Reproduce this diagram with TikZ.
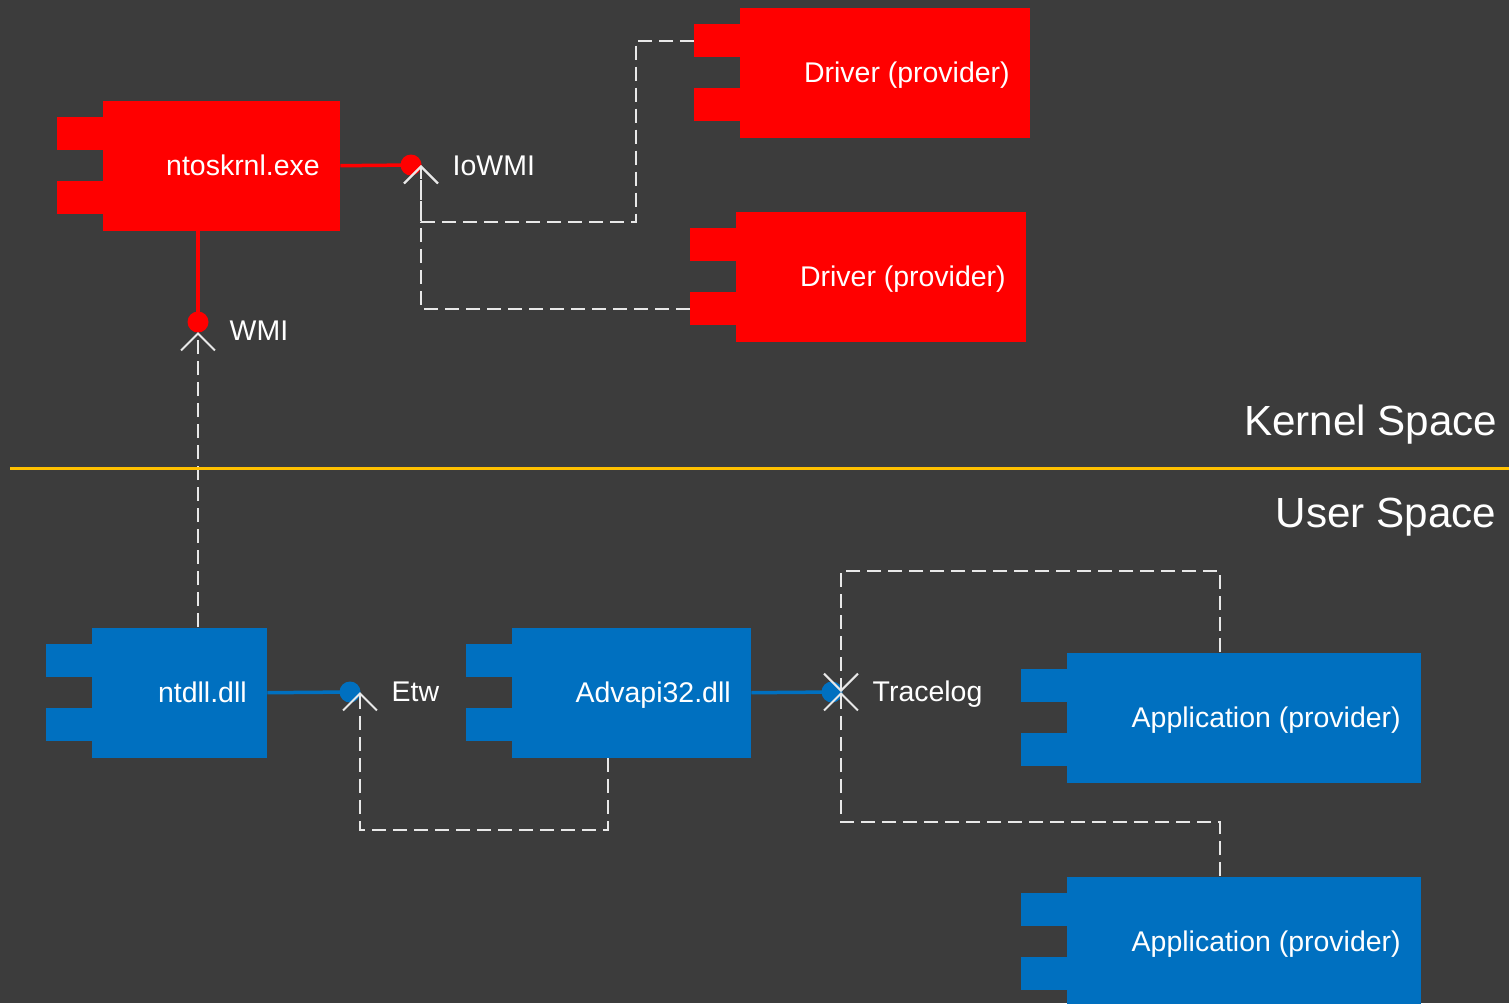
\documentclass[tikz,border=0pt]{standalone}
\usepackage{fontspec}
\setmainfont{Liberation Sans}
\usepackage{tikz}
\usetikzlibrary{arrows.meta}

\definecolor{bgcol}{HTML}{3C3C3C}
\definecolor{kred}{HTML}{FF0000}
\definecolor{ublue}{HTML}{0070C0}
\definecolor{sepcol}{HTML}{FFC000}
\definecolor{linkcol}{HTML}{E8E8E8}

\tikzset{
  compbody/.style={draw=none, minimum height=13mm, inner sep=0pt, anchor=north west},
  complabel/.style={text=white, font=\fontsize{8.1}{10}\selectfont, inner sep=0pt, anchor=base east},
  iflabel/.style={text=white, font=\fontsize{8.1}{10}\selectfont, inner sep=0pt, anchor=base west},
  spacelabel/.style={text=white, font=\fontsize{12}{14}\selectfont, inner sep=0pt, anchor=base east},
  ifdot/.style={circle, inner sep=0pt, minimum size=2.1mm},
  ifline/.style={line width=0.35mm},
  uses/.style={draw=linkcol, line width=0.2mm, dash pattern=on 1.4mm off 0.7mm,
    -{Straight Barb[length=1.7mm, width=3.4mm]}},
}

% component: name, left, top, width, colour, text
\newcommand{\umlcomp}[6]{%
  \node[compbody, fill=#5, minimum width=#4*0.1mm] (#1) at (#2,#3) {};
  \fill[#5] ([shift={(-45,17)}]#1.north west) rectangle ++(47,33);
  \fill[#5] ([shift={(-45,81)}]#1.north west) rectangle ++(47,33);
  \coordinate (#1-tab1) at ([shift={(-45,33.5)}]#1.north west);
  \coordinate (#1-tab2) at ([shift={(-45,97.5)}]#1.north west);
  \node[complabel] (#1-name) at ([shift={(-20,10)}]#1.east) {#6};
}

\begin{document}
\begin{tikzpicture}[x=0.1mm,y=-0.1mm]
  \fill[bgcol] (0,0) rectangle (1509,1003);
  \useasboundingbox (0,0) rectangle (1509,1003);

  % kernel side
  \umlcomp{ntos}{102}{100}{237}{kred}{ntoskrnl.exe}
  \umlcomp{drvA}{739}{7}{290}{kred}{Driver (provider)}
  \umlcomp{drvB}{735}{211}{290}{kred}{Driver (provider)}

  % user side
  \umlcomp{ntdll}{91}{627}{175}{ublue}{ntdll.dll}
  \umlcomp{advapi}{511}{627}{239}{ublue}{Advapi32.dll}
  \umlcomp{appA}{1066}{652}{354}{ublue}{Application (provider)}
  \umlcomp{appB}{1066}{876}{354}{ublue}{Application (provider)}

  % interfaces
  \node[ifdot, fill=kred] (wmi) at (198,322) {};
  \node[ifdot, fill=kred] (iowmi) at (411,165) {};
  \node[ifdot, fill=ublue] (etw) at (350,692) {};
  \node[ifdot, fill=ublue] (trace) at (832,692) {};
  \coordinate (wmiTip) at (198,332);
  \coordinate (iowmiTip) at (421,165);
  \coordinate (etwTip) at (360,692);
  \coordinate (traceTip) at (841,692);

  \node[iflabel] (wmi-name) at (229,340) {WMI};
  \node[iflabel] (iowmi-name) at (452,175) {IoWMI};
  \node[iflabel] (etw-name) at (391,701) {Etw};
  \node[iflabel] (trace-name) at (872,701) {Tracelog};

  \draw[ifline, kred] (wmi |- ntos.south) -- (wmi.center);
  \draw[ifline, kred] (ntos.east) -- (iowmi.center);
  \draw[ifline, ublue] (ntdll.east) -- (etw.center);
  \draw[ifline, ublue] (advapi.east) -- (trace.center);

  % dependencies
  \coordinate (ioJ) at (636,222);
  \coordinate (etwJ) at (608,830);
  \coordinate (trJA) at (1220,571);
  \coordinate (trJB) at (1220,822);

  \draw[uses] (wmiTip |- ntdll.north) -- (wmiTip);
  \draw[uses] (drvA-tab1) -| (ioJ) -| (iowmiTip);
  \draw[uses] (drvB-tab2) -| (iowmiTip);
  \draw[uses] (etwJ |- advapi.south) -- (etwJ) -| (etwTip);
  \draw[uses] (trJA |- appA.north) -- (trJA) -| (traceTip);
  \draw[uses] (trJB |- appB.north) -- (trJB) -| (traceTip);

  % kernel / user boundary
  \coordinate (sepL) at (10,468);
  \coordinate (sepR) at (1509,468);
  \draw[sepcol, line width=0.3mm] (sepL) -- (sepR);
  \node[spacelabel] (kspace) at (1498,435) {Kernel Space};
  \node[spacelabel] (uspace) at (1497,527) {User Space};
\end{tikzpicture}
\end{document}
